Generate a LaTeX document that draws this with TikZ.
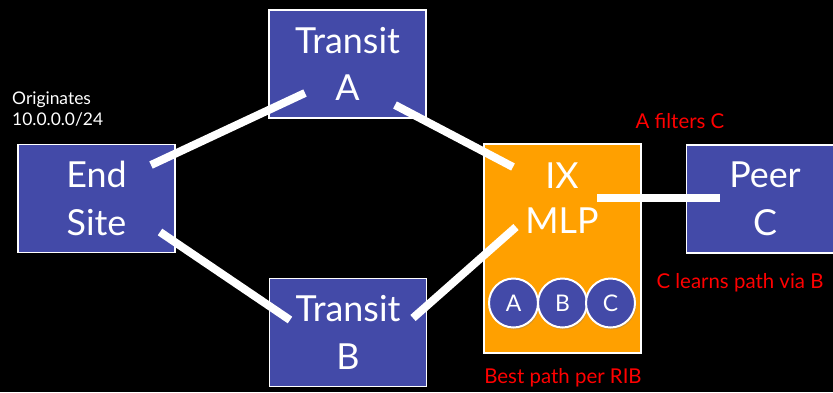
\documentclass[tikz,border=0pt]{standalone}
\usepackage{fontspec}
\setmainfont{Lato}
\usetikzlibrary{shadows}
\definecolor{boxblue}{RGB}{67,74,168}
\definecolor{ixorange}{RGB}{255,160,0}
\definecolor{notered}{RGB}{255,0,0}
\tikzset{
  netbox/.style={draw=white, line width=1.5bp, fill=boxblue, text=white, align=center,
    minimum width=157bp, minimum height=108bp, inner sep=0pt,
    font=\fontsize{36}{48}\selectfont},
  ixbox/.style={draw=white, line width=1.5bp, fill=ixorange, minimum width=157bp,
    minimum height=209bp, inner sep=0pt},
  ribcircle/.style={circle, draw=white, line width=2bp, fill=boxblue, text=white,
    minimum size=49bp, inner sep=0pt, font=\fontsize{23}{26}\selectfont,
    drop shadow={opacity=0.35, shadow xshift=1bp, shadow yshift=-2bp}},
  link/.style={draw=white, line width=8bp, line cap=butt},
  note/.style={text=notered, inner sep=0pt, font=\fontsize{20.5}{24}\selectfont},
  small/.style={text=white, inner sep=0pt, align=left, font=\fontsize{17.5}{21}\selectfont}
}
\begin{document}
\begin{tikzpicture}[x=1bp, y=-1bp]
\fill[black] (0,0) rectangle (833,392);
\useasboundingbox (0,0) rectangle (833,392);

\node[netbox] (es) at (96.5,198.5) {End\\Site};
\node[netbox] (ta) at (347.5,64) {Transit\\A};
\node[netbox] (tb) at (348,332.5) {Transit\\B};
\node[netbox] (pc) at (765,199) {Peer\\C};
\node[ixbox] (ix) at (562.5,248.5) {};
\node[text=white, align=center, inner sep=0pt, font=\fontsize{36}{45}\selectfont] (ixt) at (562,198) {IX\\MLP};

\node[ribcircle] (ra) at (513.5,303) {A};
\node[ribcircle] (rb) at (562.5,303) {B};
\node[ribcircle] (rc) at (610.5,303) {C};

\coordinate (esA) at (151,165);
\coordinate (taE) at (305,93);
\coordinate (esB) at (160,232);
\coordinate (tbE) at (290,320);
\coordinate (taI) at (395,105);
\coordinate (ixA) at (513,167);
\coordinate (tbI) at (413,318);
\coordinate (ixB) at (516,227);
\coordinate (ixP) at (597,198);
\coordinate (pcI) at (720,198);

\draw[link] (esA) -- (taE);
\draw[link] (esB) -- (tbE);
\draw[link] (taI) -- (ixA);
\draw[link] (tbI) -- (ixB);
\draw[link] (ixP) -- (pcI);

\node[small, anchor=west] (orig) at (12,109) {Originates\\10.0.0.0/24};
\node[note] (filt) at (680,121) {A filters C};
\node[note] (learn) at (740,283) {C learns path via B};
\node[note] (best) at (563,378) {Best path per RIB};
\end{tikzpicture}
\end{document}
